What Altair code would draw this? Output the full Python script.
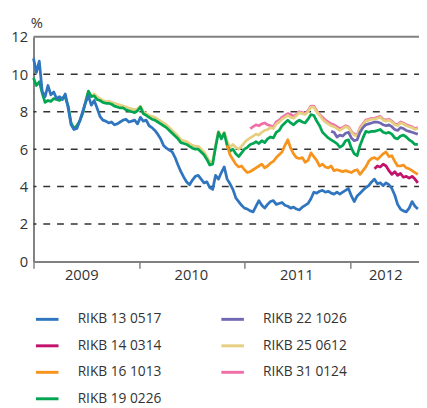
import altair as alt
import pandas as pd

# ---- data ----
grid_start = "2009-01-01"
grid_step = "10D"
grid_len = 134

series_names = ["RIKB 13 0517", "RIKB 14 0314", "RIKB 16 1013", "RIKB 19 0226",
                "RIKB 22 1026", "RIKB 25 0612", "RIKB 31 0124"]
series_colors = ["#2f75bf", "#c2126b", "#f7941d", "#00a651",
                 "#7068b2", "#e6cf80", "#f06fa8"]

rikb_13_0517 = [10.85, 10.1, 10.7, 9.1, 8.8, 9.4, 8.9, 9.05, 8.7, 8.8,
                8.65, 8.95, 8.2, 7.3, 7.05, 7.1, 7.5, 8.0, 8.5, 8.85,
                8.35, 8.6, 8.2, 7.75, 7.55, 7.5, 7.4, 7.45, 7.3, 7.35,
                7.45, 7.55, 7.6, 7.45, 7.5, 7.55, 7.35, 7.7, 7.5, 7.55,
                7.25, 7.15, 7.0, 6.8, 6.55, 6.2, 6.05, 5.95, 5.85, 5.55,
                5.15, 4.8, 4.5, 4.25, 4.1, 4.35, 4.55, 4.6, 4.4, 4.2,
                4.25, 3.95, 3.85, 4.6, 4.4, 4.75, 5.05, 4.4, 4.15, 3.85,
                3.4, 3.2, 3.0, 2.85, 2.8, 2.7, 2.65, 2.95, 3.25, 3.0,
                2.85, 3.05, 3.2, 3.25, 3.05, 3.1, 3.15, 3.0, 2.95, 2.85,
                2.9, 2.8, 2.75, 2.9, 3.0, 3.1, 3.35, 3.7, 3.65, 3.75,
                3.8, 3.7, 3.75, 3.65, 3.6, 3.7, 3.6, 3.7, 3.8, 3.9,
                3.5, 3.2, 3.5, 3.65, 3.8, 3.95, 4.05, 4.25, 4.4, 4.15,
                4.2, 4.05, 4.2, 4.1, 3.9, 3.55, 3.05, 2.8, 2.7, 2.65,
                2.85, 3.2, 2.95, 2.8]

rikb_14_0314 = [4.95, 5.1, 5.05, 5.2, 5.1, 4.85, 4.65, 4.8, 4.6, 4.7,
                4.5, 4.55, 4.45, 4.55, 4.4, 4.2]

rikb_16_1013 = [6.2, 5.7, 5.45,
                5.2, 5.05, 5.1, 4.9, 4.75, 4.8, 4.9, 5.0, 5.1, 5.2,
                5.0, 5.1, 5.25, 5.35, 5.55, 5.7, 5.85, 6.2, 6.5, 6.05,
                5.75, 5.55, 5.5, 5.55, 5.3, 5.4, 5.8, 5.6, 5.4, 5.1,
                5.2, 5.05, 5.0, 5.1, 4.85, 4.9, 4.85, 4.8, 4.85, 4.8,
                4.75, 4.85, 4.9, 4.65, 4.85, 5.05, 5.35, 5.5, 5.55, 5.45,
                5.6, 5.75, 5.85, 5.6, 5.65, 5.35, 5.1, 5.1, 5.15, 5.0,
                4.95, 4.85, 4.75, 4.65]

rikb_19_0226 = [9.8, 9.4, 9.6, 9.0, 8.5, 8.6, 8.55, 8.7, 8.65, 8.6,
                8.75, 8.75, 8.3, 7.4, 7.1, 7.25, 7.5, 7.9, 8.5, 9.1,
                8.8, 8.85, 8.65, 8.6, 8.5, 8.45, 8.45, 8.4, 8.3, 8.25,
                8.2, 8.2, 8.1, 8.05, 8.0, 7.95, 8.05, 8.25, 7.9, 7.8,
                7.7, 7.6, 7.55, 7.45, 7.35, 7.25, 7.15, 7.0, 6.85, 6.7,
                6.55, 6.35, 6.3, 6.25, 6.15, 6.05, 6.0, 6.0, 5.85, 5.7,
                5.45, 5.15, 5.2, 6.1, 6.9, 6.55, 6.85, 6.2, 5.9, 6.0,
                5.75, 5.6, 5.8, 6.0, 6.1, 6.25, 6.3, 6.4, 6.3, 6.45,
                6.35, 6.55, 6.65, 6.6, 6.9, 7.0, 7.25, 7.4, 7.55, 7.4,
                7.3, 7.45, 7.55, 7.45, 7.4, 7.6, 7.85, 7.8, 7.5, 7.25,
                6.9, 6.75, 6.6, 6.5, 6.4, 6.3, 6.1, 6.2, 6.45, 6.5,
                6.05, 5.75, 5.65, 6.2, 6.6, 6.95, 6.9, 6.95, 6.95, 7.0,
                7.05, 6.9, 6.85, 6.9, 6.8, 6.6, 6.55, 6.7, 6.75, 6.65,
                6.5, 6.4, 6.25, 6.25]

rikb_22_1026 = [6.95, 6.9, 6.65, 6.75, 6.7, 6.85, 6.9,
                6.6, 6.45, 6.5, 6.9, 7.15, 7.3, 7.35, 7.4, 7.45, 7.45,
                7.4, 7.3, 7.25, 7.3, 7.2, 7.05, 7.0, 7.15, 7.1, 7.0,
                6.95, 6.9, 6.85, 6.8]

rikb_25_0612 = [8.6, 9.05,
                8.85, 8.95, 8.8, 8.7, 8.6, 8.55, 8.55, 8.5, 8.45, 8.4,
                8.35, 8.3, 8.25, 8.2, 8.15, 8.1, 8.15, 8.3, 8.0, 7.9,
                7.8, 7.75, 7.7, 7.6, 7.5, 7.4, 7.3, 7.15, 7.0, 6.85,
                6.7, 6.5, 6.45, 6.4, 6.3, 6.2, 6.15, 6.15, 6.0, 5.85,
                5.6, 5.3, 5.35, 6.2, 6.95, 6.65, 6.9, 6.4, 6.1, 6.25,
                6.1, 6.0, 6.15, 6.35, 6.5, 6.6, 6.7, 6.8, 6.75, 6.9,
                7.0, 7.05, 7.15, 7.1, 7.35, 7.45, 7.6, 7.7, 7.8, 7.7,
                7.65, 7.8, 7.95, 7.9, 7.85, 8.0, 8.25, 8.25, 8.0, 7.8,
                7.6, 7.45, 7.35, 7.25, 7.2, 7.1, 7.0, 7.1, 7.2, 7.15,
                6.9, 6.75, 6.7, 7.1, 7.3, 7.5, 7.55, 7.6, 7.6, 7.65,
                7.7, 7.55, 7.5, 7.55, 7.45, 7.3, 7.25, 7.4, 7.35, 7.25,
                7.2, 7.15, 7.05, 7.1]

rikb_31_0124 = [7.1, 7.2, 7.3, 7.25, 7.35,
                7.4, 7.3, 7.25, 7.2, 7.45, 7.55, 7.7, 7.8, 7.9, 7.85,
                7.75, 7.85, 8.0, 7.95, 7.9, 8.05, 8.3, 8.3, 8.05, 7.85,
                7.7, 7.55, 7.45, 7.35, 7.3, 7.2, 7.1, 7.15, 7.25, 7.2,
                6.95, 6.8, 6.75, 7.15, 7.35, 7.55, 7.6, 7.65, 7.65, 7.7,
                7.75, 7.6, 7.55, 7.6, 7.5, 7.35, 7.3, 7.45, 7.4, 7.3,
                7.25, 7.2, 7.1, 7.15]

# index of each series' first observation on the 10-day date grid
series_values = [rikb_13_0517, rikb_14_0314, rikb_16_1013, rikb_19_0226,
                 rikb_22_1026, rikb_25_0612, rikb_31_0124]
series_first = [0, 118, 67, 0, 103, 18, 75]

gridline_values = [2, 4, 6, 8, 10]
top_line_value = [12]
y_ticks = [0, 2, 4, 6, 8, 10, 12]
year_ticks = [2009, 2010, 2011, 2012]
year_labels = ["2009", "2010", "2011", "2012"]
year_label_dates = ["2009-06-17", "2010-07-01", "2011-07-01", "2012-05-04"]
year_label_level = [0, 0, 0, 0]

# ---- tables ----
dates = pd.date_range(grid_start, periods=grid_len, freq=grid_step)
frames = {}
for name, vals, first in zip(series_names, series_values, series_first):
    frames[name] = pd.DataFrame({
        "date": dates[first:first + len(vals)],
        "value": vals,
        "series": name,
    })

grid_df = pd.DataFrame({"value": gridline_values})
top_df = pd.DataFrame({"value": top_line_value})
label_df = pd.DataFrame({"date": pd.to_datetime(year_label_dates),
                         "value": year_label_level, "label": year_labels})

FONT = "Open Sans"
TXT = "#333333"
AX = "#808080"

X = alt.X(
    "date:T",
    scale=alt.Scale(domain=[alt.DateTime(year=2009, month=1, date=1),
                            alt.DateTime(year=2012, month=8, date=27)]),
    axis=alt.Axis(values=[alt.DateTime(year=y, month=1, date=1) for y in year_ticks],
                  labels=False, ticks=True, tickSize=7, tickColor=AX, tickWidth=1.5,
                  domainColor=AX, domainWidth=2, grid=False, title=None),
)
Y = alt.Y(
    "value:Q",
    scale=alt.Scale(domain=[0, 12], nice=False),
    axis=alt.Axis(values=y_ticks, ticks=False, grid=False, labelPadding=6,
                  labelOverlap=False, labelFlush=False,
                  labelFont=FONT, labelFontSize=15, labelColor=TXT,
                  domainColor=AX, domainWidth=2,
                  title="%", titleAngle=0, titleAlign="center", titleBaseline="middle",
                  titleX=3, titleY=-15, titleFont=FONT, titleFontSize=15,
                  titleFontWeight="normal", titleColor=TXT),
)
C = alt.Color(
    "series:N",
    scale=alt.Scale(domain=series_names, range=series_colors),
    legend=alt.Legend(orient="none", legendX=1, legendY=275, columns=2,
                      symbolType="stroke", symbolSize=529, symbolStrokeWidth=3,
                      labelFont=FONT, labelFontSize=14, labelColor=TXT,
                      labelOffset=18, columnPadding=54, rowPadding=7,
                      labelLimit=300, title=None),
)

grid = alt.Chart(grid_df).mark_rule(
    color="#333333", strokeWidth=1.5, strokeDash=[7, 7], strokeDashOffset=2
).encode(y=Y)
top = alt.Chart(top_df).mark_rule(color=AX, strokeWidth=2).encode(y=Y)

draw_order = ["RIKB 31 0124", "RIKB 25 0612", "RIKB 22 1026", "RIKB 19 0226",
              "RIKB 16 1013", "RIKB 14 0314", "RIKB 13 0517"]
lines = [
    alt.Chart(frames[n]).mark_line(strokeWidth=2.8, strokeJoin="round").encode(x=X, y=Y, color=C)
    for n in draw_order
]

years = alt.Chart(label_df).mark_text(
    font=FONT, fontSize=15, color=TXT, dy=14, baseline="middle", align="center"
).encode(x=X, y=Y, text="label:N")

chart = alt.layer(grid, top, *lines, years).properties(
    width=393, height=229,
    autosize=alt.AutoSizeParams(type="none"),
    padding={"left": 26, "top": 25.5, "right": 0, "bottom": 146},
).configure_view(stroke=None).configure_axisY(labelOverlap=False)

chart.save("out.html", embed_options={"renderer": "svg", "actions": False})
